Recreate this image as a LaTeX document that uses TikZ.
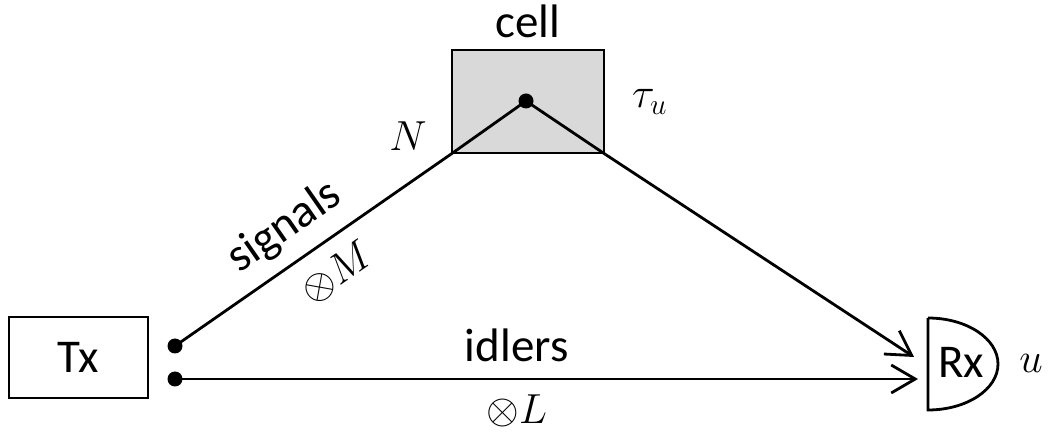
\RequirePackage{fix-cm}
\documentclass[tikz,border=0pt]{standalone}
\usepackage{fontspec}
\setmainfont{Carlito}
\usetikzlibrary{positioning,arrows.meta,calc}
\definecolor{cellfill}{HTML}{D9D9D9}
\tikzset{
  box/.style={rectangle,draw,line width=2.8pt,inner sep=0pt},
  port/.style={circle,fill,inner sep=0pt,minimum size=15pt},
  ln/.style={line width=2.8pt},
  fl/.style={-{Straight Barb[length=24pt,width=28pt]},line width=2.8pt},
  lbl/.style={font=\fontsize{47}{52}\selectfont,inner sep=0pt},
  mth/.style={font=\fontsize{42}{48}\selectfont,inner sep=0pt},
}
\begin{document}
\begin{tikzpicture}[x=1pt,y=-1pt]
  \useasboundingbox (0,0) rectangle (1050,435);
  % transmitter and its two outputs
  \node[box,lbl,minimum width=139pt,minimum height=81pt] (tx) at (78.5,357.5) {Tx};
  \node[port] (sig) at (175,346) {};
  \node[port] (idl) at (175,379) {};
  % cell
  \node[box,fill=cellfill,minimum width=152pt,minimum height=103pt] (cell) at (528,101.5) {};
  \node[port] (core) at (526,101) {};
  \node[lbl,anchor=base] (celllbl) at (528,38) {cell};
  \node[mth,anchor=base west] (tau) at (632,108) {$\tau_u$};
  \node[mth,anchor=base] (nlbl) at (408,151) {$N$};
  % receiver
  \coordinate (rxin) at (928,364);
  \draw[ln] (rxin) ++(0,-46) -- ++(0,92) arc[start angle=90,end angle=-90,x radius=70,y radius=46];
  \node[lbl] (rx) at (961,362) {Rx};
  \node[mth,anchor=base] (ulbl) at (1031,373) {$u$};
  \coordinate (rxa) at (914,357);
  \coordinate (rxb) at (918,379);
  % connectors
  \draw[ln] (sig.center) -- (cell.south west)
    node[lbl,sloped,pos=0.47,above=13pt] {signals}
    node[mth,sloped,pos=0.52,below=15pt] {$\otimes M$};
  \draw[ln,line join=round] (cell.south west) -- (core.center) -- (cell.south east);
  \draw[fl] (cell.south east) -- (rxa);
  \draw[fl] (idl.center) -- (rxb)
    node[lbl,pos=0.46,above=16pt] {idlers}
    node[mth,pos=0.46,below=14pt] {$\otimes L$};
\end{tikzpicture}
\end{document}
